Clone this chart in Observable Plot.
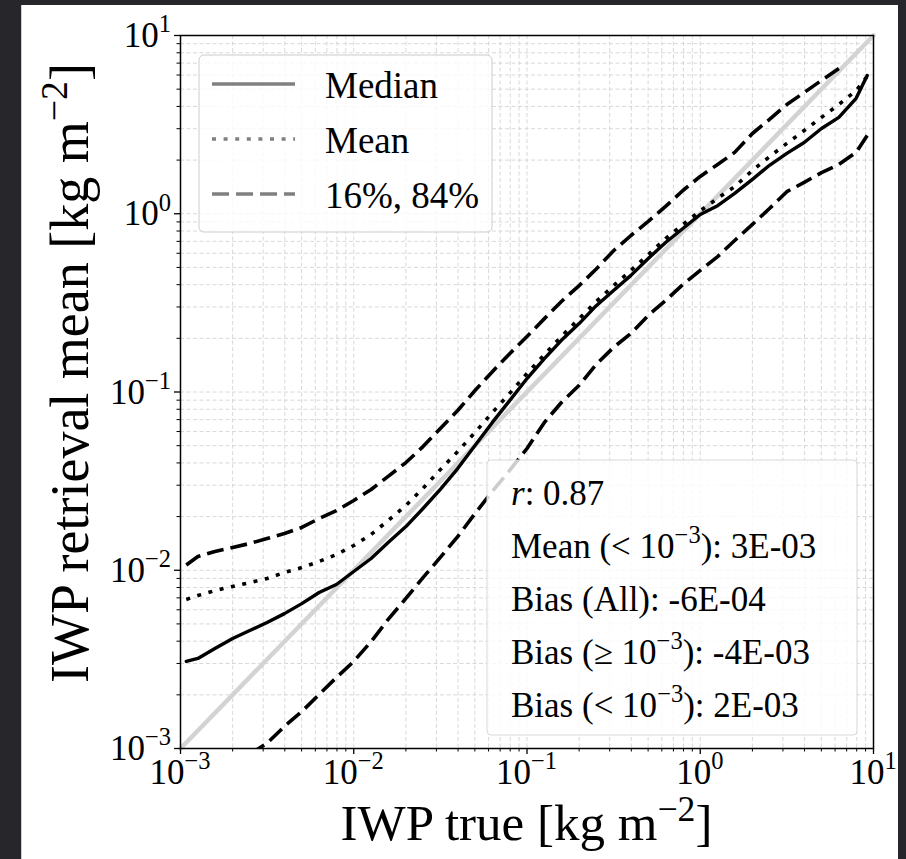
<!DOCTYPE html>
<html><head><meta charset="utf-8">
<script src="https://cdn.jsdelivr.net/npm/d3@7"></script>
<script src="https://cdn.jsdelivr.net/npm/@observablehq/plot@0.6"></script>
<style>
html,body{margin:0;padding:0;background:#26262b;width:906px;height:859px;overflow:hidden}
#fig{position:absolute;left:22px;top:5px;width:876px;height:854px;background:#fff;box-shadow:-1px 0 0 #cfcfcf}
svg text{font-family:"Liberation Serif",serif}
</style></head><body><div id="fig"></div>
<script>
// ---- data ----
const iwpTrue = [0.00108, 0.00126, 0.00158, 0.002, 0.00251, 0.00316, 0.00398, 0.00501, 0.00631, 0.00794,
  0.01, 0.0126, 0.0158, 0.02, 0.0251, 0.0316, 0.0398, 0.0501, 0.0631, 0.0794,
  0.1, 0.126, 0.158, 0.2, 0.251, 0.316, 0.398, 0.501, 0.631, 0.794,
  1, 1.26, 1.58, 2, 2.51, 3.16, 3.98, 5.01, 6.31, 7.94, 9.2];
const medianRet = [0.00308, 0.0032, 0.00364, 0.00414, 0.00459, 0.00509, 0.00571, 0.0065, 0.0075, 0.00832,
  0.00984, 0.01164, 0.01432, 0.01758, 0.0222, 0.0284, 0.0372, 0.0501, 0.0675, 0.0895,
  0.119, 0.154, 0.195, 0.242, 0.305, 0.371, 0.451, 0.561, 0.69, 0.826,
  0.991, 1.11, 1.3, 1.56, 1.87, 2.18, 2.51, 3.01, 3.47, 4.44, 5.97];
const meanRet = [0.00686, 0.00721, 0.00769, 0.00811, 0.00853, 0.00899, 0.00971, 0.01035, 0.0112, 0.01225,
  0.01377, 0.01589, 0.019, 0.0231, 0.0288, 0.0367, 0.0463, 0.0593, 0.0767, 0.0982,
  0.127, 0.162, 0.205, 0.258, 0.322, 0.395, 0.481, 0.59, 0.726, 0.871,
  1.04, 1.22, 1.42, 1.75, 2.09, 2.48, 2.93, 3.47, 4.1, 4.91, 5.9];
const p84Ret = [0.0107, 0.01194, 0.01274, 0.01343, 0.01413, 0.01507, 0.01607, 0.01738, 0.0195, 0.0216,
  0.0246, 0.0284, 0.0336, 0.0402, 0.0494, 0.0624, 0.0787, 0.102, 0.13, 0.164,
  0.205, 0.258, 0.322, 0.395, 0.49, 0.62, 0.755, 0.906, 1.1, 1.35,
  1.62, 1.89, 2.21, 2.82, 3.38, 4.1, 4.79, 5.6, 6.53, null, null];
const p16Ret = [null, null, null, null, 0.00093, 0.00107, 0.00133, 0.00161, 0.00201, 0.0025,
  0.00308, 0.00398, 0.0053, 0.00695, 0.0091, 0.0118, 0.01545, 0.0208, 0.0277, 0.0363,
  0.0482, 0.0675, 0.0873, 0.109, 0.143, 0.178, 0.213, 0.269, 0.326, 0.401,
  0.481, 0.575, 0.708, 0.871, 1.07, 1.33, 1.5, 1.7, 1.89, 2.21, 2.75];
const oneToOne = [0.001, 10];
const majorTicks = [0.001, 0.01, 0.1, 1, 10];
const tickBase = "10";
const tickExps = ["−3", "−2", "−1", "0", "1"];
const minorTicks = [0.002,0.003,0.004,0.005,0.006,0.007,0.008,0.009,
  0.02,0.03,0.04,0.05,0.06,0.07,0.08,0.09,
  0.2,0.3,0.4,0.5,0.6,0.7,0.8,0.9,
  2,3,4,5,6,7,8,9];
const legendLabels = ["Median", "Mean", "16%, 84%"];
const statsLines = [
  [["r", "i"], [": 0.87", "n"]],
  [["Mean (< 10", "n"], ["−3", "s"], ["): 3E-03", "n"]],
  [["Bias (All): -6E-04", "n"]],
  [["Bias (≥ 10", "n"], ["−3", "s"], ["): -4E-03", "n"]],
  [["Bias (< 10", "n"], ["−3", "s"], ["): 2E-03", "n"]]
];
const xLabel = [["IWP true [kg m", "n"], ["−2", "s"], ["]", "n"]];
const yLabel = [["IWP retrieval mean [kg m", "n"], ["−2", "s"], ["]", "n"]];

// ---- table ----
const rows = iwpTrue.map((x, i) => ({x, median: medianRet[i], mean: meanRet[i], p84: p84Ret[i], p16: p16Ret[i]}));
const diag = oneToOne.map(v => ({x: v, y: v}));
const allTicks = majorTicks.concat(minorTicks);

const W = 876, H = 854;
const mL = 158, mT = 30, mR = 25, mB = 111;
const gridStyle = {stroke: "#d4d4d4", strokeWidth: 0.9, strokeDasharray: "4,2.5"};
const font = "'Liberation Serif', serif";
const fsTick = 35;

const chart = Plot.plot({
  width: W, height: H,
  marginLeft: mL, marginTop: mT, marginRight: mR, marginBottom: mB,
  style: {background: "#fff", fontFamily: font, overflow: "visible"},
  x: {type: "log", domain: [0.001, 10], axis: null},
  y: {type: "log", domain: [0.001, 10], axis: null},
  marks: [
    Plot.ruleX(allTicks.filter(t => t > 0.001 && t < 10), {x: d => d, ...gridStyle}),
    Plot.ruleY(allTicks.filter(t => t > 0.001 && t < 10), {y: d => d, ...gridStyle}),
    Plot.line(diag, {x: "x", y: "y", stroke: "#d3d3d3", strokeWidth: 4.5}),
    Plot.line(rows, {x: "x", y: "p16", stroke: "black", strokeWidth: 3.6, strokeDasharray: "17,7", strokeLinecap: "butt", clip: true}),
    Plot.line(rows, {x: "x", y: "p84", stroke: "black", strokeWidth: 3.6, strokeDasharray: "17,7", strokeLinecap: "butt", clip: true}),
    Plot.line(rows, {x: "x", y: "mean", stroke: "black", strokeWidth: 3.6, strokeDasharray: "4,7.6", strokeLinecap: "butt", clip: true}),
    Plot.line(rows, {x: "x", y: "median", stroke: "black", strokeWidth: 3.4, clip: true}),
    Plot.frame({stroke: "black", strokeWidth: 1.5}),
    Plot.axisX(minorTicks, {tickSize: 3.5, strokeWidth: 1, text: null, label: null}),
    Plot.axisY(minorTicks, {tickSize: 3.5, strokeWidth: 1, text: null, label: null}),
    Plot.axisX(majorTicks, {tickSize: 6, strokeWidth: 1.3, text: null, label: null}),
    Plot.axisY(majorTicks, {tickSize: 6, strokeWidth: 1.3, text: null, label: null})
  ]
});
document.getElementById("fig").appendChild(chart);

const svg = d3.select(chart);
const sx = chart.scale("x"), sy = chart.scale("y");

// rich text helper
function rich(textSel, parts, fs, raiseK = 0.42) {
  const raise = raiseK * fs;
  let up = false;
  textSel.style("font-size", fs + "px").style("font-family", font);
  parts.forEach(([t, k]) => {
    const ts = textSel.append("tspan").text(t);
    if (k === "s") { ts.style("font-size", (fs * 0.7) + "px").attr("dy", -raise); up = true; }
    else {
      ts.style("font-size", fs + "px");
      if (k === "i") ts.style("font-style", "italic");
      if (up) { ts.attr("dy", raise); up = false; }
    }
  });
}

// tick labels (positioned by the Plot scales)
const tl = svg.append("g").attr("fill", "black");
majorTicks.forEach((v, i) => {
  rich(tl.append("text").attr("x", sx.apply(v)).attr("y", H - mB + 36).attr("text-anchor", "middle"),
    [[tickBase, "n"], [tickExps[i], "s"]], fsTick);
  rich(tl.append("text").attr("x", mL - 9).attr("y", sy.apply(v) + 12).attr("text-anchor", "end"),
    [[tickBase, "n"], [tickExps[i], "s"]], fsTick);
});

// axis labels
rich(svg.append("text").attr("x", mL + (W - mL - mR) / 2).attr("y", 835)
  .attr("text-anchor", "middle").attr("fill", "black"), xLabel, 51, 0.38);
rich(svg.append("text").attr("transform", `translate(66,368) rotate(-90)`)
  .attr("text-anchor", "middle").attr("fill", "black"), yLabel, 54, 0.38);

// legend
const leg = svg.append("g");
leg.append("rect").attr("x", 177).attr("y", 50).attr("width", 293).attr("height", 177)
  .attr("rx", 5).attr("fill", "white").attr("fill-opacity", 0.8).attr("stroke", "#cccccc").attr("stroke-width", 1);
const legDash = [null, "4,7.6", "17,7"];
legendLabels.forEach((lab, i) => {
  const y = 79 + i * 55;
  leg.append("line").attr("x1", 190).attr("x2", 273).attr("y1", y).attr("y2", y)
    .attr("stroke", "#808080").attr("stroke-width", 3.6)
    .attr("stroke-dasharray", legDash[i]).attr("stroke-linecap", "butt");
  leg.append("text").attr("x", 303).attr("y", y + 14).attr("text-anchor", "start")
    .style("font-size", "37px").attr("fill", "black").text(lab);
});

// stats box
const st = svg.append("g");
st.append("rect").attr("x", 465).attr("y", 455).attr("width", 370).attr("height", 275)
  .attr("rx", 4).attr("fill", "white").attr("fill-opacity", 0.8).attr("stroke", "#d8d8d8").attr("stroke-width", 1);
statsLines.forEach((parts, i) => {
  const t = st.append("text").attr("x", 489).attr("y", 500 + i * 53).attr("text-anchor", "start").attr("fill", "black");
  rich(t, parts, 35);
});
</script></body></html>
